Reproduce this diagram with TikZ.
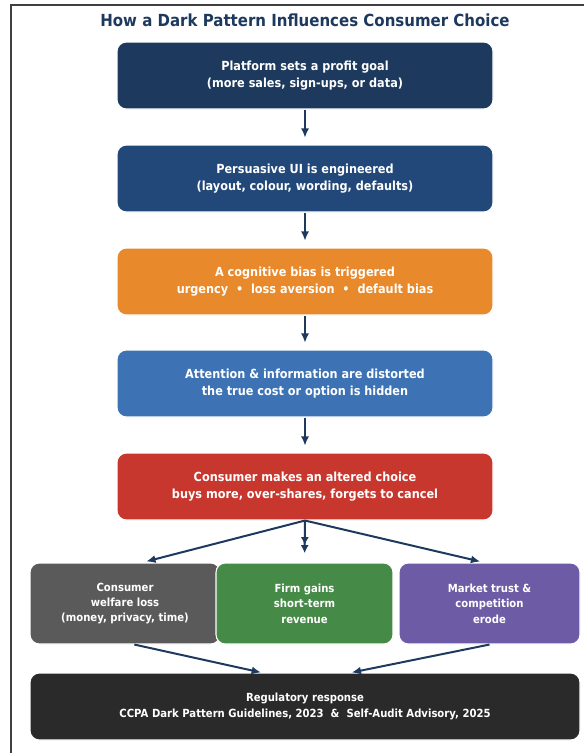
\documentclass[tikz,border=0pt]{standalone}
\usepackage{fontspec}
\setmainfont{DejaVu Sans}[FakeStretch=0.9]
\usepackage{xcolor}
\usetikzlibrary{arrows.meta,positioning}

\definecolor{navyA}{HTML}{1D3A5E}
\definecolor{navyB}{HTML}{214878}
\definecolor{biasorange}{HTML}{E8892B}
\definecolor{attnblue}{HTML}{3D72B4}
\definecolor{choicered}{HTML}{C8372D}
\definecolor{lossgray}{HTML}{5A5A5A}
\definecolor{firmgreen}{HTML}{458A47}
\definecolor{trustpurple}{HTML}{6E5BA6}
\definecolor{regblack}{HTML}{2A2A2A}

\tikzset{
	box/.style={rounded corners=7pt, draw=white, line width=0.8pt, text=white,
		font=\fontsize{9.4}{12.6}\selectfont\bfseries, align=center, inner sep=0pt},
	stepbox/.style={box, minimum width=282pt, minimum height=50.25pt},
	effectbox/.style={box, minimum height=60.75pt, font=\fontsize{8.4}{11.5}\selectfont\bfseries},
	flow/.style={-{Latex[length=7pt,width=6pt]}, line width=1.5pt, draw=navyA}
}

\begin{document}
\begin{tikzpicture}[x=0.75pt,y=-0.75pt]
	\useasboundingbox (0,0) rectangle (584,753);
	% frame
	\draw[line width=1.2pt,black!75] (11,753) -- (11,5) -- (584,5);
	
	% title
	\node[text=navyA, font=\fontsize{12.5}{15}\selectfont\bfseries] (title) at (305,20) {How a Dark Pattern Influences Consumer Choice};
	
	% main chain
	\node[stepbox, fill=navyA] (goal) at (305,75.5) {Platform sets a profit goal\\(more sales, sign-ups, or data)};
	\node[stepbox, fill=navyB] (ui) at (305,178.5) {Persuasive UI is engineered\\(layout, colour, wording, defaults)};
	\node[stepbox, fill=biasorange] (bias) at (305,281.5) {A cognitive bias is triggered\\urgency \ • \ loss aversion \ • \ default bias};
	\node[stepbox, fill=attnblue] (distort) at (305,383.5) {Attention \& information are distorted\\the true cost or option is hidden};
	\node[stepbox, fill=choicered] (choice) at (305,486.5) {Consumer makes an altered choice\\buys more, over-shares, forgets to cancel};
	
	\draw[flow, shorten >=5pt] (goal) -- (ui);
	\draw[flow, shorten >=5pt] (ui) -- (bias);
	\draw[flow, shorten >=5pt] (bias) -- (distort);
	\draw[flow, shorten >=5pt] (distort) -- (choice);
	
	% effects
	\node[effectbox, fill=lossgray, minimum width=142.5pt] (welfare) at (125,603.5) {Consumer\\welfare loss\\(money, privacy, time)};
	\node[effectbox, fill=firmgreen, minimum width=132.75pt] (revenue) at (304.5,603.5) {Firm gains\\short-term\\revenue};
	\node[effectbox, fill=trustpurple, minimum width=135.75pt] (trust) at (489.5,603.5) {Market trust \&\\competition\\erode};
	
	\draw[flow, shorten >=3pt] (choice.south) -- ([xshift=13]welfare.north);
	\draw[flow, -{Latex[length=6pt,width=6pt]Latex[length=6pt,width=6pt]}, shorten >=7pt] (choice.south) -- (revenue.north);
	\draw[flow, shorten >=3pt] (choice.south) -- ([xshift=-4]trust.north);
	
	% regulator
	\node[box, fill=regblack, minimum width=412.5pt, minimum height=50.25pt, font=\fontsize{8.4}{11.8}\selectfont\bfseries] (response) at (305,706.5) {Regulatory response\\CCPA Dark Pattern Guidelines, 2023 \ \& \ Self-Audit Advisory, 2025};
	
	\draw[flow] ([xshift=7]welfare.south) -- ([xshift=-33]response.north);
	\draw[flow] (trust.south) -- ([xshift=35]response.north);
\end{tikzpicture}
\end{document}
